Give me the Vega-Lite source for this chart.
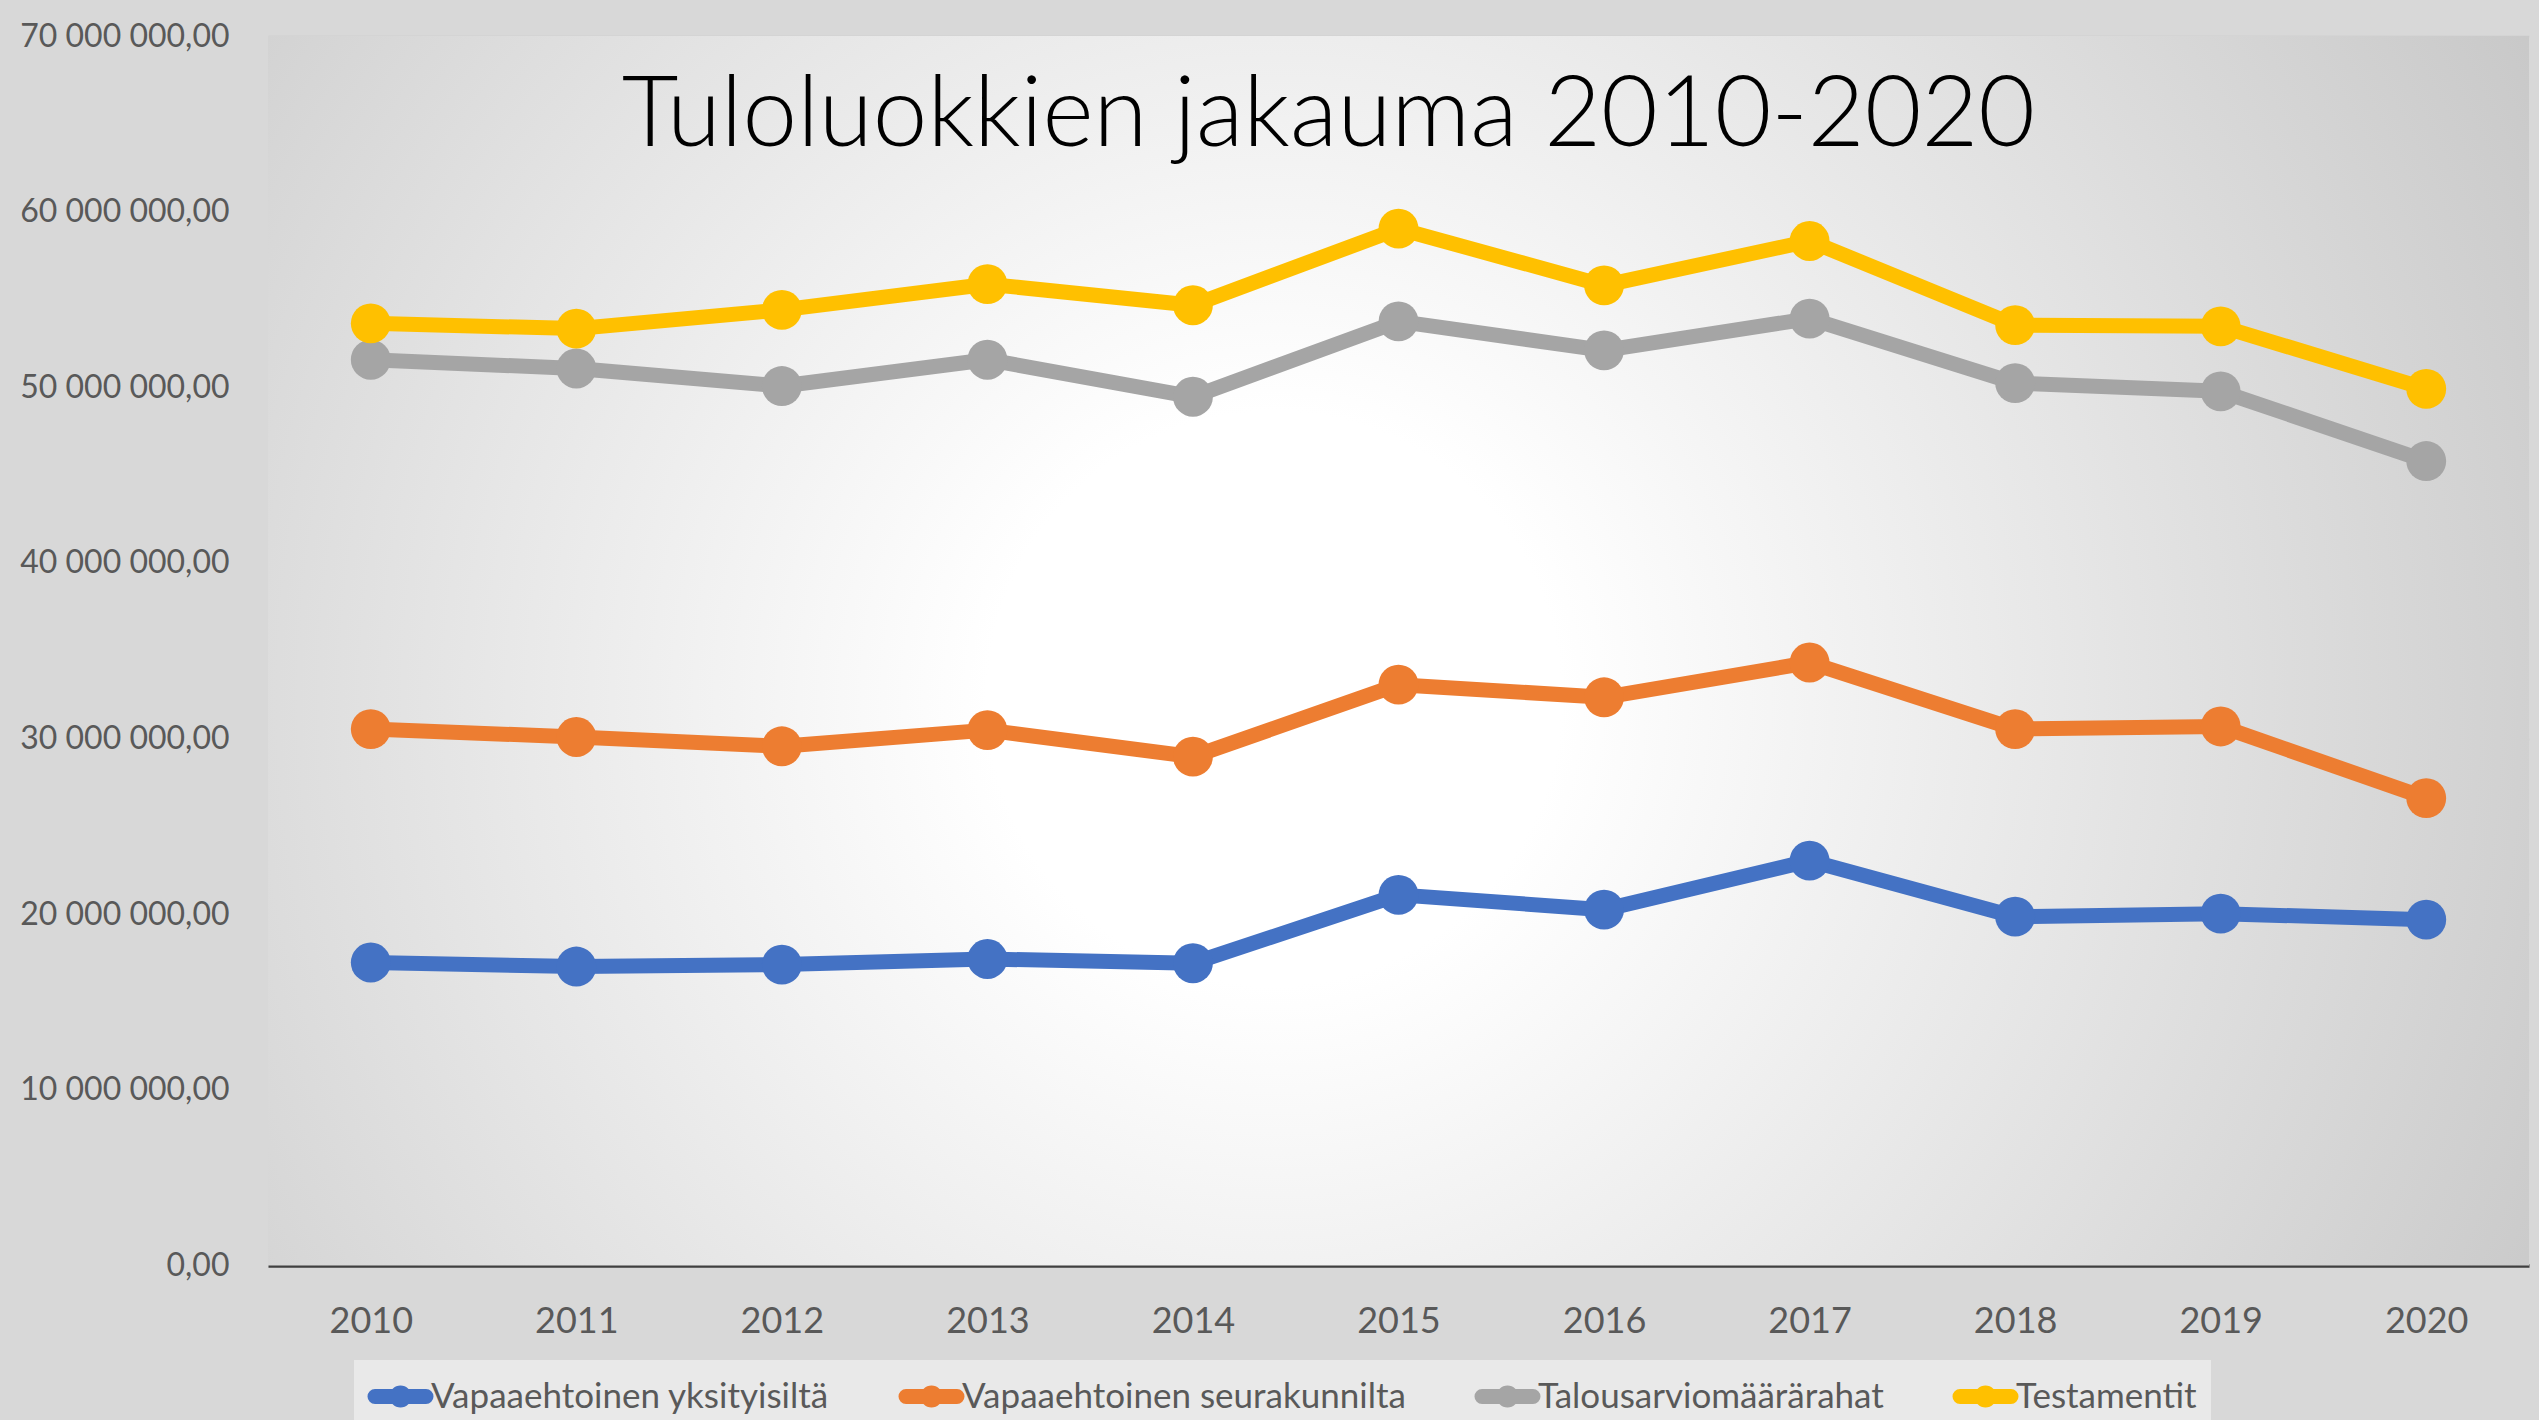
{
  "$schema": "https://vega.github.io/schema/vega-lite/v6.json",
  "width": 2261,
  "height": 1229.5,
  "autosize": {"type": "none"},
  "padding": {"left": 268, "top": 36, "right": 10, "bottom": 154.5},
  "background": "#d8d8d8",
  "title": {
    "text": "Tuloluokkien jakauma 2010-2020",
    "font": "Lato",
    "fontSize": 98,
    "fontWeight": 300,
    "color": "#000000",
    "anchor": "middle",
    "offset": -147,
    "dx": -70
  },
  "config": {
    "view": {"stroke": null},
    "font": "Lato",
    "locale": {
      "number": {"decimal": ",", "thousands": " ", "grouping": [3], "currency": ["", " €"]}
    }
  },
  "data": {
    "values": [
      {"year": "2010", "series": "Vapaaehtoinen yksityisiltä", "value": 17250000},
      {"year": "2011", "series": "Vapaaehtoinen yksityisiltä", "value": 17020000},
      {"year": "2012", "series": "Vapaaehtoinen yksityisiltä", "value": 17130000},
      {"year": "2013", "series": "Vapaaehtoinen yksityisiltä", "value": 17450000},
      {"year": "2014", "series": "Vapaaehtoinen yksityisiltä", "value": 17210000},
      {"year": "2015", "series": "Vapaaehtoinen yksityisiltä", "value": 21100000},
      {"year": "2016", "series": "Vapaaehtoinen yksityisiltä", "value": 20260000},
      {"year": "2017", "series": "Vapaaehtoinen yksityisiltä", "value": 23050000},
      {"year": "2018", "series": "Vapaaehtoinen yksityisiltä", "value": 19860000},
      {"year": "2019", "series": "Vapaaehtoinen yksityisiltä", "value": 20030000},
      {"year": "2020", "series": "Vapaaehtoinen yksityisiltä", "value": 19690000},
      {"year": "2010", "series": "Vapaaehtoinen seurakunnilta", "value": 30540000},
      {"year": "2011", "series": "Vapaaehtoinen seurakunnilta", "value": 30090000},
      {"year": "2012", "series": "Vapaaehtoinen seurakunnilta", "value": 29560000},
      {"year": "2013", "series": "Vapaaehtoinen seurakunnilta", "value": 30480000},
      {"year": "2014", "series": "Vapaaehtoinen seurakunnilta", "value": 28970000},
      {"year": "2015", "series": "Vapaaehtoinen seurakunnilta", "value": 33070000},
      {"year": "2016", "series": "Vapaaehtoinen seurakunnilta", "value": 32350000},
      {"year": "2017", "series": "Vapaaehtoinen seurakunnilta", "value": 34330000},
      {"year": "2018", "series": "Vapaaehtoinen seurakunnilta", "value": 30540000},
      {"year": "2019", "series": "Vapaaehtoinen seurakunnilta", "value": 30690000},
      {"year": "2020", "series": "Vapaaehtoinen seurakunnilta", "value": 26610000},
      {"year": "2010", "series": "Talousarviomäärärahat", "value": 51570000},
      {"year": "2011", "series": "Talousarviomäärärahat", "value": 51070000},
      {"year": "2012", "series": "Talousarviomäärärahat", "value": 50070000},
      {"year": "2013", "series": "Talousarviomäärärahat", "value": 51570000},
      {"year": "2014", "series": "Talousarviomäärärahat", "value": 49460000},
      {"year": "2015", "series": "Talousarviomäärärahat", "value": 53750000},
      {"year": "2016", "series": "Talousarviomäärärahat", "value": 52100000},
      {"year": "2017", "series": "Talousarviomäärärahat", "value": 53910000},
      {"year": "2018", "series": "Talousarviomäärärahat", "value": 50240000},
      {"year": "2019", "series": "Talousarviomäärärahat", "value": 49770000},
      {"year": "2020", "series": "Talousarviomäärärahat", "value": 45800000},
      {"year": "2010", "series": "Testamentit", "value": 53640000},
      {"year": "2011", "series": "Testamentit", "value": 53340000},
      {"year": "2012", "series": "Testamentit", "value": 54410000},
      {"year": "2013", "series": "Testamentit", "value": 55870000},
      {"year": "2014", "series": "Testamentit", "value": 54670000},
      {"year": "2015", "series": "Testamentit", "value": 59030000},
      {"year": "2016", "series": "Testamentit", "value": 55800000},
      {"year": "2017", "series": "Testamentit", "value": 58330000},
      {"year": "2018", "series": "Testamentit", "value": 53540000},
      {"year": "2019", "series": "Testamentit", "value": 53470000},
      {"year": "2020", "series": "Testamentit", "value": 49910000}
    ]
  },
  "layer": [
    {
      "data": {"values": [{}]},
      "mark": {
        "type": "rect",
        "color": {
          "gradient": "radial",
          "x1": 0.445, "y1": 0.521, "r1": 0,
          "x2": 0.445, "y2": 0.521, "r2": 0.634,
          "stops": [
            {"offset": 0, "color": "#ffffff"},
            {"offset": 0.2, "color": "#ffffff"},
            {"offset": 1, "color": "#c8c8c8"}
          ]
        }
      },
      "encoding": {}
    },
    {
      "mark": {"type": "line", "strokeWidth": 15, "strokeJoin": "round", "strokeCap": "round"},
      "encoding": {
        "x": {
          "field": "year", "type": "ordinal",
          "scale": {"type": "point", "padding": 0.5},
          "axis": {
            "title": null,
            "labelFont": "Lato",
            "labelFontSize": 36,
            "labelColor": "#595959",
            "labelPadding": 39,
            "labelAngle": 0,
            "ticks": false,
            "domainColor": "#404040",
            "domainWidth": 3.5,
            "grid": false
          }
        },
        "y": {
          "field": "value", "type": "quantitative",
          "scale": {"domain": [0, 70000000], "nice": false, "zero": true},
          "axis": {
            "title": null,
            "values": [0, 10000000, 20000000, 30000000, 40000000, 50000000, 60000000, 70000000],
            "format": ",.2f",
            "labelFont": "Lato",
            "labelFontSize": 32,
            "labelLimit": 500,
            "labelColor": "#595959",
            "labelPadding": 39,
            "ticks": false,
            "domain": false,
            "gridColor": "#cfcfcf",
            "gridWidth": 2
          }
        },
        "color": {
          "field": "series", "type": "nominal",
          "sort": ["Vapaaehtoinen yksityisiltä", "Vapaaehtoinen seurakunnilta", "Talousarviomäärärahat", "Testamentit"],
          "scale": {
            "domain": ["Vapaaehtoinen yksityisiltä", "Vapaaehtoinen seurakunnilta", "Talousarviomäärärahat", "Testamentit"],
            "range": ["#4472C4", "#ED7D31", "#A5A5A5", "#FFC000"]
          },
          "legend": {
            "title": null,
            "orient": "none",
            "legendX": 86,
            "legendY": 1324,
            "direction": "horizontal",
            "columns": 4,
            "columnPadding": 46,
            "padding": 14,
            "fillColor": "rgba(255,255,255,0.45)",
            "labelFont": "Lato",
            "labelFontSize": 35,
            "labelLimit": 800,
            "labelColor": "#595959",
            "labelOffset": 8,
            "symbolOffset": 10,
            "symbolType": "M-1.7,0L1.7,0M-0.233,0A0.233,0.233,0,1,0,0.233,0A0.233,0.233,0,1,0,-0.233,0Z",
            "symbolSize": 900,
            "symbolStrokeWidth": 15,
            "encode": {
              "symbols": {
                "update": {
                  "fill": {"scale": "color", "field": "value"},
                  "stroke": {"scale": "color", "field": "value"},
                  "strokeCap": {"value": "round"},
                  "opacity": {"value": 1}
                }
              }
            }
          }
        }
      }
    },
    {
      "mark": {"type": "point", "filled": true, "size": 1590, "opacity": 1, "shape": "circle"},
      "encoding": {
        "x": {"field": "year", "type": "ordinal"},
        "y": {"field": "value", "type": "quantitative"},
        "color": {"field": "series", "type": "nominal"}
      }
    }
  ]
}
